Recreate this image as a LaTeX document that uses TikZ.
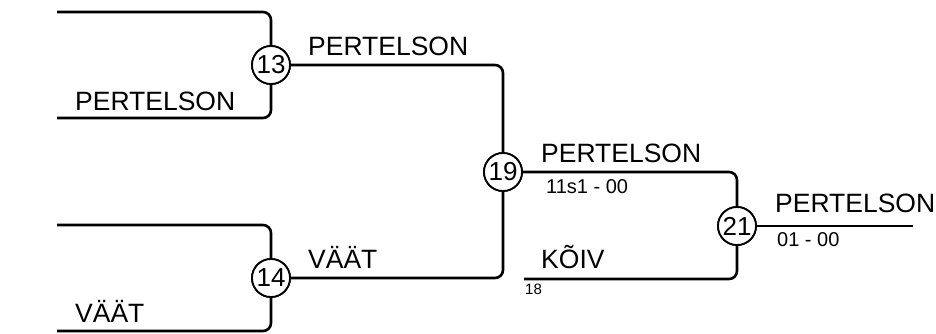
\documentclass[tikz,border=0pt]{standalone}
\usepackage{fontspec}
\setmainfont{Liberation Sans}
\begin{document}
\begin{tikzpicture}[x=1pt,y=-1pt,
  matchno/.style={circle,draw,line width=1.8pt,minimum size=38pt,inner sep=0pt,fill=white,font=\fontsize{26}{26}\selectfont},
  bline/.style={line width=2.6pt,rounded corners=8pt},
  namelbl/.style={anchor=base west,inner sep=0pt,font=\fontsize{26.5}{26.5}\selectfont},
  scorelbl/.style={anchor=base west,inner sep=0pt,font=\fontsize{20}{20}\selectfont},
  seedlbl/.style={anchor=base west,inner sep=0pt,font=\fontsize{15}{15}\selectfont}]
\useasboundingbox (0,0) rectangle (936,333);
% match circles
\node[matchno] (c13) at (271,65) {13};
\node[matchno] (c14) at (271,278) {14};
\node[matchno] (c19) at (503,172) {19};
\node[matchno] (c21) at (737,226) {21};
% free ends
\coordinate (a13) at (57,12);
\coordinate (b13) at (57,118);
\coordinate (a14) at (57,225);
\coordinate (b14) at (57,331);
\coordinate (k21) at (524,279);
\coordinate (w21) at (913,226);
% connectors
\draw[bline] (a13) -| (c13);
\draw[bline] (b13) -| (c13);
\draw[bline] (a14) -| (c14);
\draw[bline] (b14) -| (c14);
\draw[bline] (c13) -| (c19);
\draw[bline] (c14) -| (c19);
\draw[bline] (c19) -| (c21);
\draw[bline] (k21) -| (c21);
\draw[bline] (c21) -- (w21);
% redraw circles on top
\node[matchno] at (c13) {13};
\node[matchno] at (c14) {14};
\node[matchno] at (c19) {19};
\node[matchno] at (c21) {21};
% labels
\node[namelbl] (n1) at (75,110) {PERTELSON};
\node[namelbl] (n2) at (75,322) {VÄÄT};
\node[namelbl] (n3) at (308,55) {PERTELSON};
\node[namelbl] (n4) at (308,268) {VÄÄT};
\node[namelbl] (n5) at (541,162) {PERTELSON};
\node[scorelbl] (s5) at (546,193) {11s1 - 00};
\node[namelbl] (n6) at (541,268) {KÕIV};
\node[seedlbl] (s6) at (525,294) {18};
\node[namelbl] (n7) at (775,212) {PERTELSON};
\node[scorelbl] (s7) at (777,246) {01 - 00};
\end{tikzpicture}
\end{document}
